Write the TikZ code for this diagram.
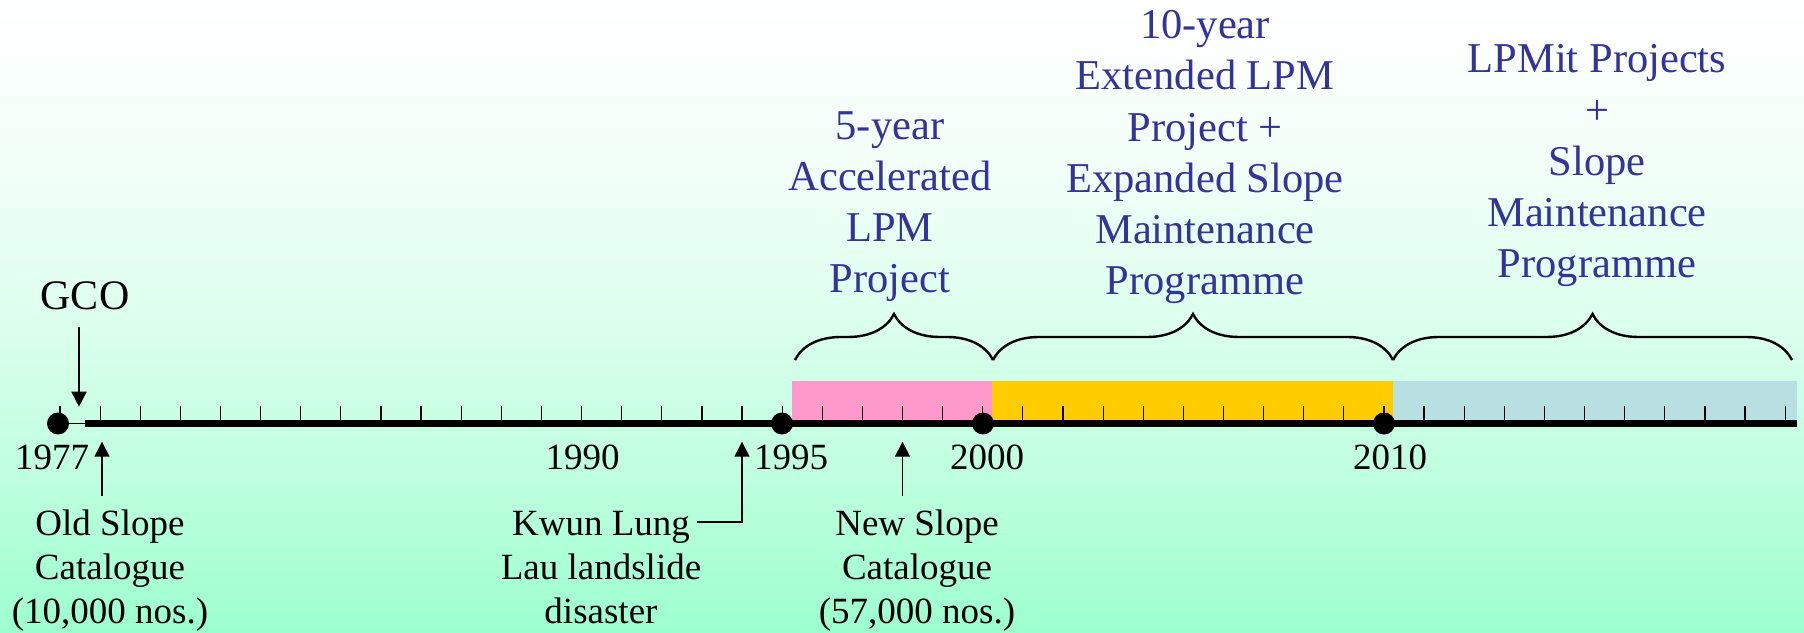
\documentclass[tikz,border=0pt]{standalone}
\usepackage{fontspec}
\setmainfont{Liberation Serif}
\usetikzlibrary{arrows.meta,decorations.pathreplacing}
\definecolor{mint}{RGB}{156,255,206}
\colorlet{mintA}{mint!65!white}
\colorlet{mintB}{mint!35!white}
\colorlet{mintC}{mint!12!white}
\definecolor{lpmblue}{RGB}{51,51,153}
\definecolor{pinkband}{RGB}{255,153,204}
\definecolor{goldband}{RGB}{255,204,0}
\definecolor{greyband}{RGB}{184,224,226}
\pgfdeclareverticalshading{skyshade}{100bp}{color(0bp)=(mint); color(25bp)=(mint); color(37.5bp)=(mintA); color(50bp)=(mintB); color(62.5bp)=(mintC); color(75bp)=(white); color(100bp)=(white)}
\begin{document}
\begin{tikzpicture}[x=1pt, y=1pt,
            arr/.style={-{Triangle[length=15pt,width=15pt]}, line width=1.6pt},
            event/.style={circle, fill, inner sep=0pt, minimum size=22pt},
            yr/.style={anchor=base, font=\fontsize{37}{44}\selectfont},
            note/.style={anchor=base, align=center, inner sep=13pt, font=\fontsize{37}{44}\selectfont},
            prog/.style={anchor=base, align=center, text=lpmblue, font=\fontsize{42.5}{51.3}\selectfont},
            curly/.style={decorate, decoration={brace, amplitude=46pt}, line width=2.4pt}]
            \useasboundingbox (0,0) rectangle (1804,632);
            \shade[shading=skyshade] (0,0) rectangle (1804,632);
            \fill[pinkband] (792,212) rectangle (992,251);
            \fill[goldband] (992,212) rectangle (1393,251);
            \fill[greyband] (1393,212) rectangle (1797,251);
            \foreach \i in {0,...,43}
                \draw[line width=1.2pt] (60+40.12*\i,212) -- ++(0,14);
            \draw[line width=1.5pt] (58,208.5) -- (85,208.5);
            \draw[line width=7pt] (85,208.5) -- (1797,208.5);
            \node[event] (d1) at (58,208.5) {};
            \node[event] (d2) at (782,208.5) {};
            \node[event] (d3) at (983,208.5) {};
            \node[event] (d4) at (1384,208.5) {};
            \node[yr] (y1) at (52,162.5) {1977};
            \node[yr] (y2) at (582.5,162.5) {1990};
            \node[yr] (y3) at (791,162.5) {1995};
            \node[yr] (y4) at (987,162.5) {2000};
            \node[yr] (y5) at (1390,162.5) {2010};
            \coordinate (b0) at (795,272);
            \coordinate (b1) at (993,272);
            \coordinate (b2) at (1393,272);
            \coordinate (b3) at (1792,272);
            \draw[curly] (b0) -- (b1);
            \draw[curly] (b1) -- (b2);
            \draw[curly] (b2) -- (b3);
            \node[prog] (p1) at (890,339) {5-year\\Accelerated\\LPM\\Project};
            \node[prog] (p2) at (1205,337) {10-year\\Extended LPM\\Project +\\Expanded Slope\\Maintenance\\Programme};
            \node[prog] (p3) at (1597,354) {LPMit Projects\\+\\Slope\\Maintenance\\Programme};
            \node[anchor=base, inner sep=16pt, font=\fontsize{42}{50}\selectfont] (gco) at (85,322) {GCO};
            \coordinate (t0) at (79,225.3);
            \draw[arr] (gco.south -| t0) -- (t0);
            \node[note] (old) at (110,9) {Old Slope\\Catalogue\\(10,000 nos.)};
            \node[note] (kwun) at (601,9) {Kwun Lung\\Lau landslide\\disaster};
            \node[note] (new) at (917,9) {New Slope\\Catalogue\\(57,000 nos.)};
            \coordinate (t1) at (102,190.3);
            \coordinate (t2) at (742,190.3);
            \coordinate (t3) at (902.5,190.3);
            \coordinate (k) at (697,110);
            \draw[arr] (old.north -| t1) -- (t1);
            \draw[arr] (k) -| (t2);
            \draw[arr] (new.north -| t3) -- (t3);
\end{tikzpicture}
\end{document}
